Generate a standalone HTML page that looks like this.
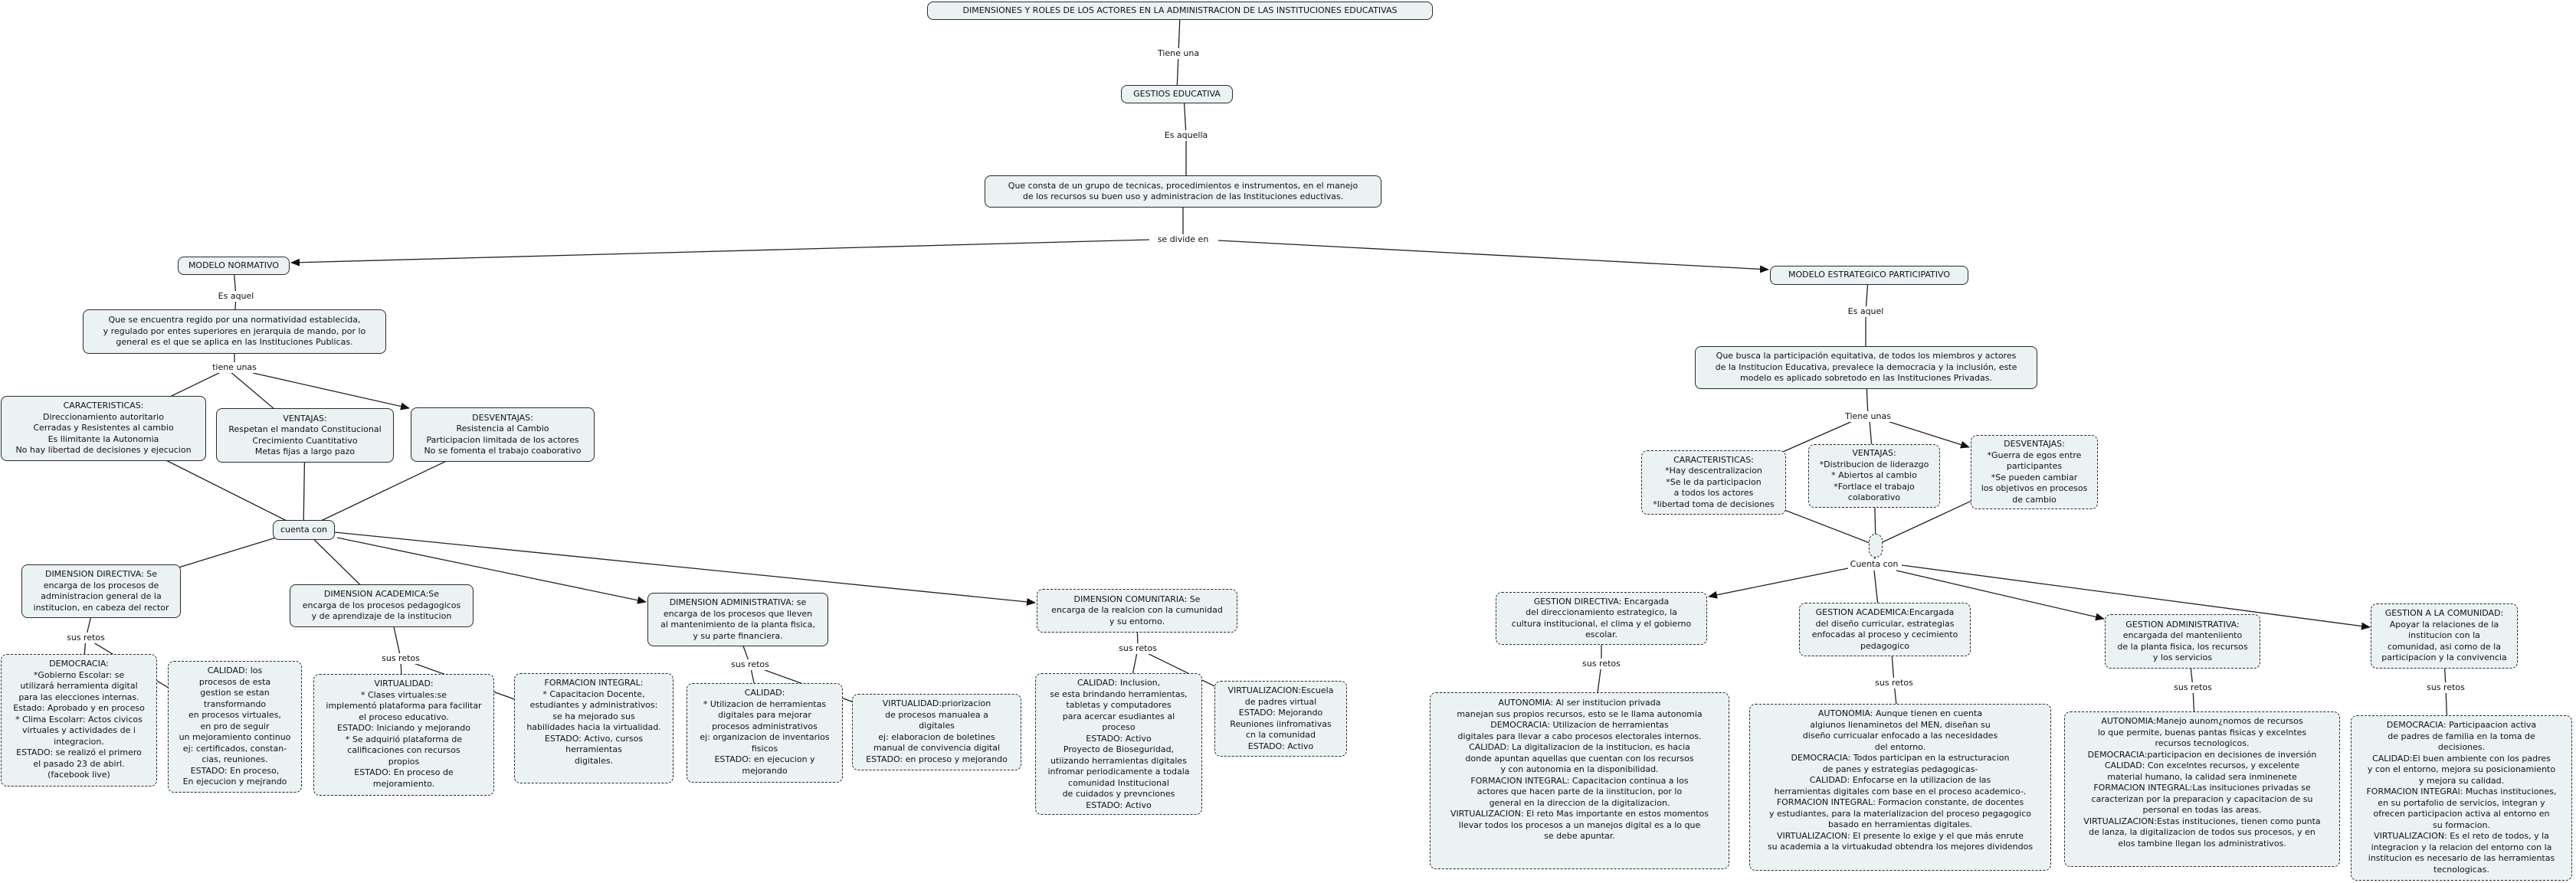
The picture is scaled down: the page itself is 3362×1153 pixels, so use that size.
<!DOCTYPE html>
<html><head><meta charset="utf-8">
<style>
html,body{margin:0;padding:0;background:#fff;}
body{width:3362px;height:1153px;position:relative;overflow:hidden;font-family:"DejaVu Sans","Liberation Sans",sans-serif;font-size:11px;color:#111;}
.b{position:absolute;box-sizing:border-box;background:#ebf2f4;border:1.3px solid #2a2a2a;border-radius:8px;display:flex;align-items:center;justify-content:center;text-align:center;line-height:14.5px;white-space:nowrap;}
.d{border-style:dashed;}
.t{align-items:flex-start;padding-top:5px;}
.l{position:absolute;transform:translate(-50%,-50%);background:#fff;padding:0 2px;white-space:nowrap;line-height:14px;}
svg{position:absolute;left:0;top:0;}
</style></head><body>
<svg width="3362" height="1153" viewBox="0 0 3362 1153">
<defs><marker id="a" markerWidth="12" markerHeight="10" refX="11" refY="5" orient="auto" markerUnits="userSpaceOnUse"><path d="M0,0 L12,5 L0,10 z" fill="#111"/></marker></defs>
<g stroke="#222" stroke-width="1.3" fill="none">
<polyline points="1540,20 1538,70 1536,120"/>
<polyline points="1545,125 1548,177 1548,240"/>
<polyline points="1544,260 1544,313"/>
<line x1="1500" y1="313" x2="380" y2="343" marker-end="url(#a)"/>
<line x1="1590" y1="314" x2="2308" y2="352" marker-end="url(#a)"/>
<polyline points="305,350 308,387 306,420"/>
<polyline points="306,450 306,480"/>
<line x1="290" y1="485" x2="135" y2="560"/>
<line x1="300" y1="485" x2="398" y2="568"/>
<line x1="330" y1="487" x2="534" y2="533" marker-end="url(#a)"/>
<line x1="135" y1="560" x2="396" y2="691"/>
<line x1="398" y1="568" x2="396" y2="691"/>
<line x1="656" y1="567" x2="396" y2="691"/>
<line x1="396" y1="691" x2="132" y2="772"/>
<line x1="396" y1="691" x2="498" y2="791"/>
<line x1="440" y1="702" x2="843" y2="786" marker-end="url(#a)"/>
<line x1="437" y1="695" x2="1351" y2="787" marker-end="url(#a)"/>
<polyline points="120,800 112,833 103,940"/>
<line x1="112" y1="833" x2="306" y2="950"/>
<polyline points="510,800 523,860 527,960"/>
<line x1="523" y1="860" x2="775" y2="950"/>
<polyline points="965,830 979,868 998,957"/>
<line x1="979" y1="868" x2="1222" y2="956"/>
<polyline points="1484,810 1485,847 1460,970"/>
<line x1="1485" y1="847" x2="1671" y2="938"/>
<polyline points="2438,365 2435,407 2435,470"/>
<polyline points="2436,500 2438,544"/>
<line x1="2420" y1="549" x2="2236" y2="630"/>
<line x1="2440" y1="549" x2="2446" y2="621"/>
<line x1="2460" y1="549" x2="2570" y2="584" marker-end="url(#a)"/>
<line x1="2236" y1="630" x2="2448" y2="712"/>
<line x1="2446" y1="621" x2="2448" y2="712"/>
<line x1="2655" y1="616" x2="2448" y2="712"/>
<line x1="2448" y1="720" x2="2446" y2="737"/>
<line x1="2412" y1="742" x2="2230" y2="779" marker-end="url(#a)"/>
<line x1="2446" y1="745" x2="2452" y2="800"/>
<line x1="2475" y1="745" x2="2746" y2="808" marker-end="url(#a)"/>
<line x1="2482" y1="738" x2="3093" y2="819" marker-end="url(#a)"/>
<polyline points="2090,820 2090,867 2083,920"/>
<polyline points="2468,840 2472,892 2476,930"/>
<polyline points="2858,860 2862,898 2864,940"/>
<polyline points="3190,860 3192,898 3194,950"/>
</g>
</svg>

<div class="b" style="left:1210px;top:2px;width:660px;height:24px;">DIMENSIONES Y ROLES DE LOS ACTORES EN LA ADMINISTRACION DE LAS INSTITUCIONES EDUCATIVAS</div>
<div class="b" style="left:1463px;top:111px;width:146px;height:24px;">GESTIOS EDUCATIVA</div>
<div class="b" style="left:1285px;top:229px;width:518px;height:42px;">Que consta de un grupo de tecnicas, procedimientos e instrumentos, en el manejo<br>de los recursos su buen uso y administracion de las Instituciones eductivas.</div>

<div class="b" style="left:232px;top:335px;width:146px;height:24px;">MODELO NORMATIVO</div>
<div class="b" style="left:108px;top:404px;width:396px;height:58px;">Que se encuentra regido por una normatividad establecida,<br>y regulado por entes superiores en jerarquia de mando, por lo<br>general es el que se aplica en las Instituciones Publicas.</div>
<div class="b" style="left:1px;top:517px;width:268px;height:85px;">CARACTERISTICAS:<br>Direccionamiento autoritario<br>Cerradas y Resistentes al cambio<br>Es llimitante la Autonomia<br>No hay libertad de decisiones y ejecucion</div>
<div class="b" style="left:282px;top:533px;width:232px;height:71px;">VENTAJAS:<br>Respetan el mandato Constitucional<br>Crecimiento Cuantitativo<br>Metas fijas a largo pazo</div>
<div class="b" style="left:536px;top:532px;width:240px;height:71px;">DESVENTAJAS:<br>Resistencia al Cambio<br>Participacion limitada de los actores<br>No se fomenta el trabajo coaborativo</div>
<div class="b" style="left:356px;top:679px;width:81px;height:26px;">cuenta con</div>

<div class="b" style="left:28px;top:737px;width:208px;height:70px;">DIMENSION DIRECTIVA: Se<br>encarga de los procesos de<br>administracion general de la<br>institucion, en cabeza del rector</div>
<div class="b" style="left:378px;top:763px;width:240px;height:56px;">DIMENSION ACADEMICA:Se<br>encarga de los procesos pedagogicos<br>y de aprendizaje de la institucion</div>
<div class="b" style="left:845px;top:774px;width:236px;height:70px;">DIMENSION ADMINISTRATIVA: se<br>encarga de los procesos que lleven<br>al mantenimiento de la planta fisica,<br>y su parte financiera.</div>
<div class="b d" style="left:1353px;top:769px;width:262px;height:57px;">DIMENSION COMUNITARIA: Se<br>encarga de la realcion con la cumunidad<br>y su entorno.</div>

<div class="b d t" style="left:1px;top:854px;width:204px;height:173px;">DEMOCRACIA:<br>*Gobierno Escolar: se<br>utilizará herramienta digital<br>para las elecciones internas.<br>Estado: Aprobado y en proceso<br>* Clima Escolarr: Actos civicos<br>virtuales y actividades de i<br>integracion.<br>ESTADO: se realizó el primero<br>el pasado 23 de abirl.<br>(facebook live)</div>
<div class="b d t" style="left:219px;top:863px;width:175px;height:172px;">CALIDAD: los<br>procesos de esta<br>gestion se estan<br>transformando<br>en procesos virtuales,<br>en pro de seguir<br>un mejoramiento continuo<br>ej: certificados, constan-<br>cias, reuniones.<br>ESTADO: En proceso,<br>En ejecucion y mejrando</div>
<div class="b d t" style="left:409px;top:880px;width:236px;height:159px;">VIRTUALIDAD:<br>* Clases virtuales:se<br>implementó plataforma para facilitar<br>el proceso educativo.<br>ESTADO: Iniciando y mejorando<br>* Se adquirió plataforma de<br>calificaciones con recursos<br>propios<br>ESTADO: En proceso de<br>mejoramiento.</div>
<div class="b d t" style="left:671px;top:879px;width:208px;height:144px;">FORMACION INTEGRAL:<br>* Capacitacion Docente,<br>estudiantes y administrativos:<br>se ha mejorado sus<br>habilidades hacia la virtualidad.<br>ESTADO: Activo, cursos<br>herramientas<br>digitales.</div>
<div class="b d t" style="left:896px;top:892px;width:204px;height:130px;">CALIDAD:<br>* Utilizacion de herramientas<br>digitales para mejorar<br>procesos administrativos<br>ej: organizacion de inventarios<br>fisicos<br>ESTADO: en ejecucion y<br>mejorando</div>
<div class="b d t" style="left:1112px;top:906px;width:221px;height:100px;">VIRTUALIDAD:priorizacion<br>de procesos manualea a<br>digitales<br>ej: elaboracion de boletines<br>manual de convivencia digital<br>ESTADO: en proceso y mejorando</div>
<div class="b d t" style="left:1351px;top:879px;width:218px;height:185px;">CALIDAD: Inclusion,<br>se esta brindando herramientas,<br>tabletas y computadores<br>para acercar esudiantes al<br>proceso<br>ESTADO: Activo<br>Proyecto de Bioseguridad,<br>utiizando herramientas digitales<br>infromar periodicamente a todala<br>comunidad Institucional<br>de cuidados y prevnciones<br>ESTADO: Activo</div>
<div class="b d t" style="left:1585px;top:889px;width:173px;height:99px;">VIRTUALIZACION:Escuela<br>de padres virtual<br>ESTADO: Mejorando<br>Reuniones iinfromativas<br>cn la comunidad<br>ESTADO: Activo</div>

<div class="b" style="left:2310px;top:347px;width:259px;height:25px;">MODELO ESTRATEGICO PARTICIPATIVO</div>
<div class="b" style="left:2212px;top:452px;width:447px;height:56px;">Que busca la participación equitativa, de todos los miembros y actores<br>de la Institucion Educativa, prevalece la democracia y la inclusión, este<br>modelo es aplicado sobretodo en las Instituciones Privadas.</div>
<div class="b d" style="left:2142px;top:588px;width:189px;height:84px;">CARACTERISTICAS:<br>*Hay descentralizacion<br>*Se le da participacion<br>a todos los actores<br>*libertad toma de decisiones</div>
<div class="b d" style="left:2360px;top:580px;width:172px;height:83px;">VENTAJAS:<br>*Distribucion de liderazgo<br>* Abiertos al cambio<br>*Fortlace el trabajo<br>colaborativo</div>
<div class="b d" style="left:2572px;top:568px;width:166px;height:97px;">DESVENTAJAS:<br>*Guerra de egos entre<br>participantes<br>*Se pueden cambiar<br>los objetivos en procesos<br>de cambio</div>
<div class="b d" style="left:2439px;top:697px;width:18px;height:31px;border-radius:9px;"></div>

<div class="b d" style="left:1952px;top:773px;width:276px;height:69px;">GESTION DIRECTIVA: Encargada<br>del direccionamiento estrategico, la<br>cultura institucional, el clima y el gobierno<br>escolar.</div>
<div class="b d" style="left:2348px;top:787px;width:224px;height:70px;">GESTION ACADEMICA:Encargada<br>del diseño curricular, estrategias<br>enfocadas al proceso y cecimiento<br>pedagogico</div>
<div class="b d" style="left:2747px;top:802px;width:203px;height:71px;">GESTION ADMINISTRATIVA:<br>encargada del manteniiento<br>de la planta fisica, los recursos<br>y los servicios</div>
<div class="b d" style="left:3094px;top:788px;width:192px;height:85px;">GESTION A LA COMUNIDAD:<br>Apoyar la relaciones de la<br>institucion con la<br>comunidad, asi como de la<br>participacion y la convivencia</div>

<div class="b d t" style="left:1866px;top:904px;width:391px;height:231px;padding-top:6px;">AUTONOMIA: Al ser institucion privada<br>manejan sus propios recursos, esto se le llama autonomia<br>DEMOCRACIA: Utilizacion de herramientas<br>digitales para llevar a cabo procesos electorales internos.<br>CALIDAD: La digitalizacion de la institucion, es hacia<br>donde apuntan aquellas que cuentan con los recursos<br>y con autonomia en la disponibilidad.<br>FORMACION INTEGRAL: Capacitacion continua a los<br>actores que hacen parte de la iinstitucion, por lo<br>general en la direccion de la digitalizacion.<br>VIRTUALIZACION: El reto Mas importante en estos momentos<br>llevar todos los procesos a un manejos digital es a lo que<br>se debe apuntar.</div>
<div class="b d t" style="left:2283px;top:919px;width:394px;height:218px;">AUTONOMIA: Aunque tienen en cuenta<br>algiunos lienaminetos del MEN, diseñan su<br>diseño curricualar enfocado a las necesidades<br>del entorno.<br>DEMOCRACIA: Todos participan en la estructuracion<br>de panes y estrategias pedagogicas-<br>CALIDAD: Enfocarse en la utilizacion de las<br>herramientas digitales com base en el proceso academico-.<br>FORMACION INTEGRAL: Formacion constante, de docentes<br>y estudiantes, para la materializacion del proceso pegagogico<br>basado en herramientas digitales.<br>VIRTUALIZACION: El presente lo exige y el que más enrute<br>su academia a la virtuakudad obtendra los mejores dividendos</div>
<div class="b d t" style="left:2694px;top:929px;width:360px;height:203px;">AUTONOMIA:Manejo aunom¿nomos de recursos<br>lo que permite, buenas pantas fisicas y excelntes<br>recursos tecnologicos.<br>DEMOCRACIA:participacion en decisiones de inversión<br>CALIDAD: Con excelntes recursos, y excelente<br>material humano, la calidad sera inminenete<br>FORMACION INTEGRAL:Las insituciones privadas se<br>caracterizan por la preparacion y capacitacion de su<br>personal en todas las areas.<br>VIRTUALIZACION:Estas instituciones, tienen como punta<br>de lanza, la digitalizacion de todos sus procesos, y en<br>elos tambine llegan los administrativos.</div>
<div class="b d t" style="left:3068px;top:934px;width:289px;height:216px;">DEMOCRACIA: Participaacion activa<br>de padres de familia en la toma de<br>decisiones.<br>CALIDAD:El buen ambiente con los padres<br>y con el entorno, mejora su posicionamiento<br>y mejora su calidad.<br>FORMACION INTEGRAl: Muchas instituciones,<br>en su portafolio de servicios, integran y<br>ofrecen participacion activa al entorno en<br>su formacion.<br>VIRTUALIZACION: Es el reto de todos, y la<br>integracion y la relacion del entorno con la<br>institucion es necesario de las herramientas<br>tecnologicas.</div>

<span class="l" style="left:1538px;top:70px;">Tiene una</span>
<span class="l" style="left:1548px;top:177px;">Es aquella</span>
<span class="l" style="left:1544px;top:313px;">se divide en</span>
<span class="l" style="left:308px;top:387px;">Es aquel</span>
<span class="l" style="left:306px;top:480px;">tiene unas</span>
<span class="l" style="left:2435px;top:407px;">Es aquel</span>
<span class="l" style="left:2438px;top:544px;">Tiene unas</span>
<span class="l" style="left:2446px;top:737px;">Cuenta con</span>
<span class="l" style="left:112px;top:833px;">sus retos</span>
<span class="l" style="left:523px;top:860px;">sus retos</span>
<span class="l" style="left:979px;top:868px;">sus retos</span>
<span class="l" style="left:1485px;top:847px;">sus retos</span>
<span class="l" style="left:2090px;top:867px;">sus retos</span>
<span class="l" style="left:2472px;top:892px;">sus retos</span>
<span class="l" style="left:2862px;top:898px;">sus retos</span>
<span class="l" style="left:3192px;top:898px;">sus retos</span>
</body></html>
